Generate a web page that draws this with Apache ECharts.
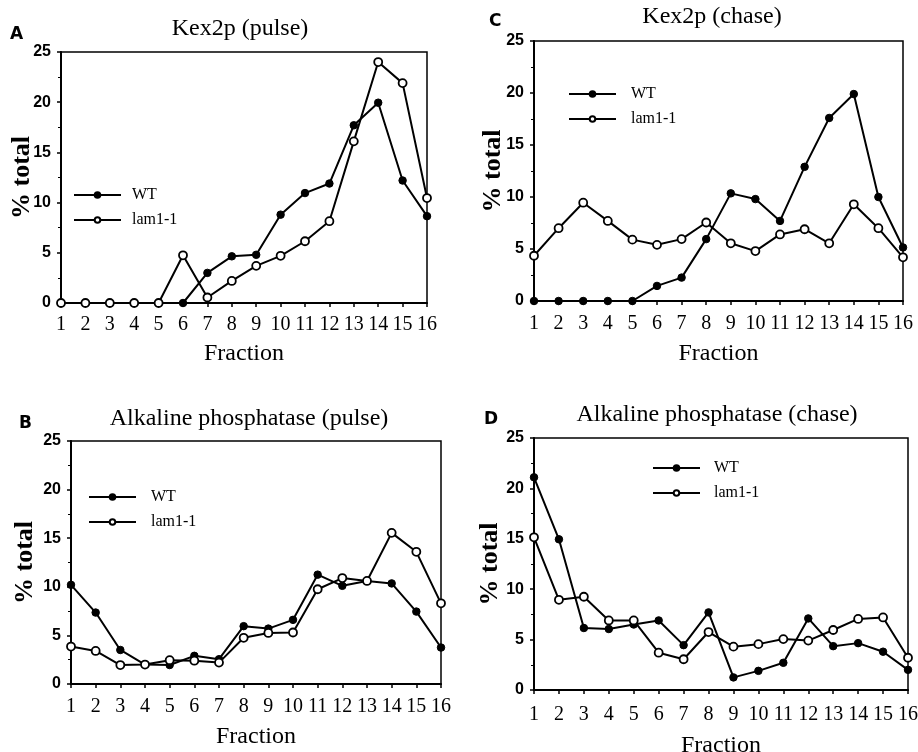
<!DOCTYPE html>
<html>
<head>
<meta charset="utf-8">
<script src="https://cdn.jsdelivr.net/npm/echarts@6/dist/echarts.min.js"></script>
<style>
  html, body { margin: 0; padding: 0; background: #fff; }
  #chart { width: 918px; height: 752px; }
</style>
</head>
<body>
<div id="chart"></div>
<script>
  // fractions 1..16
  const fractions = ['1','2','3','4','5','6','7','8','9','10','11','12','13','14','15','16'];
  const yTicks = [0, 5, 10, 15, 20, 25];

  // A: Kex2p (pulse)
  const kexPulseWT  = [0, 0, 0, 0, 0, 0, 3.0, 4.65, 4.8, 8.8, 10.95, 11.9, 17.7, 19.95, 12.2, 8.65];
  const kexPulseLam = [0, 0, 0, 0, 0, 4.75, 0.55, 2.2, 3.7, 4.7, 6.15, 8.15, 16.1, 24.0, 21.9, 10.45];

  // C: Kex2p (chase)
  const kexChaseWT  = [0, 0, 0, 0, 0, 1.45, 2.25, 5.95, 10.35, 9.8, 7.7, 12.9, 17.6, 19.9, 10.0, 5.15];
  const kexChaseLam = [4.35, 7.0, 9.45, 7.7, 5.9, 5.4, 5.95, 7.55, 5.55, 4.8, 6.4, 6.9, 5.55, 9.3, 7.0, 4.2];

  // B: Alkaline phosphatase (pulse)
  const alpPulseWT  = [10.2, 7.35, 3.5, 2.0, 1.95, 2.9, 2.55, 5.95, 5.7, 6.6, 11.25, 10.1, 10.6, 10.35, 7.45, 3.75];
  const alpPulseLam = [3.85, 3.4, 1.95, 2.0, 2.45, 2.4, 2.2, 4.75, 5.25, 5.3, 9.75, 10.9, 10.6, 15.55, 13.6, 8.3];

  // D: Alkaline phosphatase (chase)
  const alpChaseWT  = [21.1, 14.95, 6.15, 6.05, 6.5, 6.9, 4.45, 7.7, 1.25, 1.9, 2.7, 7.1, 4.35, 4.65, 3.8, 2.0];
  const alpChaseLam = [15.15, 8.95, 9.25, 6.9, 6.9, 3.7, 3.05, 5.75, 4.3, 4.55, 5.05, 4.9, 5.95, 7.05, 7.2, 3.2];

  const serif = '"Liberation Serif", "DejaVu Serif", serif';
  const sans = '"Liberation Sans", Arial, sans-serif';

  const panels = [
    { letter: 'A', title: 'Kex2p (pulse)', grid: { left: 61, top: 52, width: 366, height: 251 },
      wt: kexPulseWT, lam: kexPulseLam, legend: { left: 68, top: 182 }, legendPad: 6,
      yGap: 26, xGap: 39, xMargin: 12, titleX: 235, titleY: 12, letterX: 5, letterY: 21 },
    { letter: 'C', title: 'Kex2p (chase)', grid: { left: 534, top: 41, width: 369, height: 260 },
      wt: kexChaseWT, lam: kexChaseLam, legend: { left: 563, top: 81 }, legendPad: 10,
      yGap: 28, xGap: 41, xMargin: 13, titleX: 707, titleY: 0, letterX: 484, letterY: 8 },
    { letter: 'B', title: 'Alkaline phosphatase (pulse)', grid: { left: 71, top: 441, width: 370, height: 243 },
      wt: alpPulseWT, lam: alpPulseLam, legend: { left: 83, top: 484 }, legendPad: 10,
      yGap: 33, xGap: 41, xMargin: 13, titleX: 244, titleY: 402, letterX: 14, letterY: 410 },
    { letter: 'D', title: 'Alkaline phosphatase (chase)', grid: { left: 534, top: 438, width: 374, height: 252 },
      wt: alpChaseWT, lam: alpChaseLam, legend: { left: 647, top: 455 }, legendPad: 9,
      yGap: 31, xGap: 44, xMargin: 15, titleX: 712, titleY: 398, letterX: 479, letterY: 406 }
  ];

  const chart = echarts.init(document.getElementById('chart'));

  const option = {
    backgroundColor: '#fff',
    animation: false,
    title: [],
    grid: [],
    xAxis: [],
    yAxis: [],
    legend: [],
    series: []
  };

  panels.forEach((p, i) => {
    option.title.push({
      text: p.title, left: p.titleX, top: p.titleY, textAlign: 'center',
      textStyle: { fontFamily: serif, fontSize: 24, fontWeight: 'normal', color: '#000' }
    });
    option.title.push({
      text: p.letter, left: p.letterX, top: p.letterY,
      textStyle: { fontFamily: '"DejaVu Sans", sans-serif', fontSize: 17, fontWeight: 'bold', color: '#000' }
    });
    option.grid.push(Object.assign({
      show: true, borderColor: '#000', borderWidth: 1.5, backgroundColor: 'transparent',
      outerBoundsMode: 'none', containLabel: false
    }, p.grid));
    option.xAxis.push({
      gridIndex: i, type: 'category', data: fractions, boundaryGap: false,
      name: 'Fraction', nameLocation: 'middle', nameGap: p.xGap, nameMoveOverlap: false,
      nameTextStyle: { fontFamily: serif, fontSize: 24, color: '#000' },
      axisLine: { lineStyle: { color: '#000', width: 2 } },
      axisTick: { length: 4, lineStyle: { color: '#000', width: 1.5 } },
      axisLabel: { fontFamily: serif, fontSize: 20, color: '#000', margin: p.xMargin, interval: 0 },
      splitLine: { show: false }
    });
    option.yAxis.push({
      gridIndex: i, type: 'value', min: yTicks[0], max: yTicks[yTicks.length - 1], interval: 5,
      name: '% total', nameLocation: 'middle', nameGap: p.yGap, nameRotate: 90, nameMoveOverlap: false,
      nameTextStyle: { fontFamily: serif, fontSize: 26, fontWeight: 'bold', color: '#000' },
      axisLine: { show: true, lineStyle: { color: '#000', width: 2 } },
      axisTick: { show: true, length: 4, lineStyle: { color: '#000', width: 1.5 } },
      minorTick: { show: true, splitNumber: 2, length: 3, lineStyle: { color: '#000', width: 1 } },
      axisLabel: { fontFamily: sans, fontSize: 16, fontWeight: 'bold', color: '#000', margin: 10 },
      splitLine: { show: false }
    });
    option.legend.push({
      orient: 'vertical', left: p.legend.left, top: p.legend.top,
      itemWidth: 47, itemHeight: 7, itemGap: 9,
      data: ['WT', 'lam1-1'],
      textStyle: { fontFamily: serif, fontSize: 16, color: '#000', padding: [0, 0, 0, p.legendPad] },
      selectedMode: false
    });
    option.series.push({
      name: 'WT', type: 'line', xAxisIndex: i, yAxisIndex: i, data: p.wt,
      symbol: 'circle', symbolSize: 7.5,
      lineStyle: { color: '#000', width: 2 },
      itemStyle: { color: '#000', borderColor: '#000', borderWidth: 1 }
    });
    option.series.push({
      name: 'lam1-1', type: 'line', xAxisIndex: i, yAxisIndex: i, data: p.lam,
      symbol: 'circle', symbolSize: 8,
      lineStyle: { color: '#000', width: 2 },
      itemStyle: { color: '#fff', borderColor: '#000', borderWidth: 1.8 }
    });
  });

  chart.setOption(option);
</script>
</body>
</html>
